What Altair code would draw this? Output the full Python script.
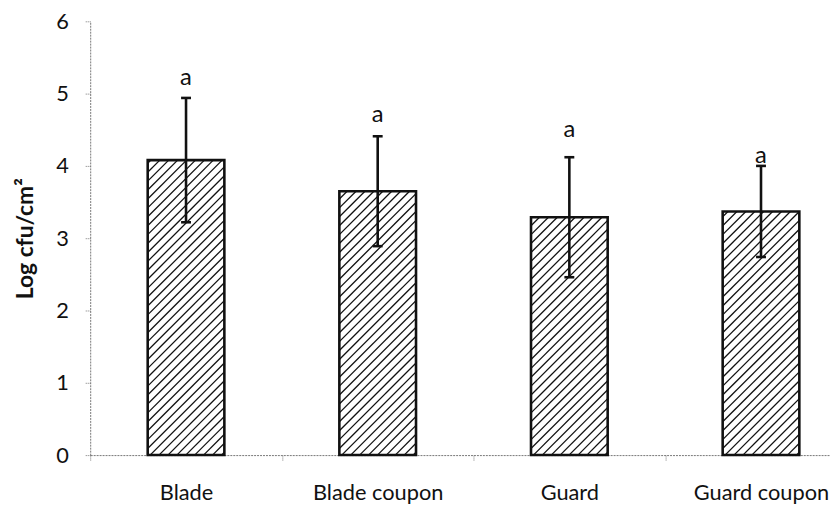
import json
import altair as alt
import pandas as pd

# ---- data ----
categories = ["Blade", "Blade coupon", "Guard", "Guard coupon"]
means = [4.08, 3.65, 3.29, 3.37]
errors = [0.86, 0.76, 0.83, 0.63]
letters = ["a", "a", "a", "a"]
letter_y = [5.21, 4.71, 4.49, 4.14]
y_ticks = [0, 1, 2, 3, 4, 5, 6]

# ---- layout ----
W, H = 747, 438
X_MAX = 3.86          # plot is cropped on the right in the reference
Y_MAX = 6
PX_X = W / X_MAX
PX_Y = H / Y_MAX
HALF = 0.2            # half bar width (in band units)
CAP = 5 / PX_X        # half cap width
FONT = "Lato"

rows = []
for i, (c, m, e) in enumerate(zip(categories, means, errors)):
    ctr = i + 0.5
    rows.append(dict(cat=c, center=ctr, left=ctr - HALF, right=ctr + HALF,
                     mean=m, zero=0.0, lo=m - e, hi=m + e,
                     capL=ctr - CAP, capR=ctr + CAP))
bars = pd.DataFrame(rows)

lab = pd.DataFrame(dict(center=[i + 0.5 for i in range(len(categories))],
                        ly=letter_y, txt=letters))

# hatch lines (45 deg, lower-left to upper-right), derived from bar geometry
SPACING = 9.0
hatch = []
for r in rows:
    w = (r["right"] - r["left"]) * PX_X
    h = r["mean"] * PX_Y
    c = -w + 3
    while c < h:
        u0 = max(0.0, -c)
        u1 = min(w, h - c)
        if u1 > u0:
            hatch.append(dict(x0=r["left"] + u0 / PX_X, x1=r["left"] + u1 / PX_X,
                              y0=(u0 + c) / PX_Y, y1=(u1 + c) / PX_Y))
        c += SPACING
hatch = pd.DataFrame(hatch)

xscale = alt.Scale(domain=[0, X_MAX], nice=False, zero=False)
yscale = alt.Scale(domain=[0, Y_MAX], nice=False)

names_js = json.dumps(categories).replace('"', "'")
x_axis = alt.Axis(
    title=None, grid=False,
    values=[0, 0.5, 1, 1.5, 2, 2.5, 3, 3.5],
    labelExpr=f"datum.value % 1 === 0 ? '' : {names_js}[floor(datum.value)]",
    labelFont=FONT, labelFontSize=22, labelColor="#111",
    labelPadding=23, labelFlush=False, labelOverlap=False,
    tickSize=5, tickColor="#777", tickDash=[1, 1], tickWidth=1,
    tickOpacity=alt.condition("datum.value % 1 === 0", alt.value(1), alt.value(0)),
    domainColor="#777", domainDash=[2, 1], domainWidth=1,
)
y_axis = alt.Axis(
    title="Log cfu/cm²", titleFont=FONT, titleFontSize=23, titleFontWeight="bold",
    titleColor="#111", titlePadding=19,
    values=y_ticks, grid=False,
    labelFont=FONT, labelFontSize=22, labelColor="#111", labelPadding=17,
    tickSize=5, tickColor="#777", tickDash=[1, 1], tickWidth=1,
    domainColor="#777", domainDash=[2, 1], domainWidth=1,
)


def X(f):
    return alt.X(f, type="quantitative", scale=xscale, axis=x_axis)


def Y(f):
    return alt.Y(f, type="quantitative", scale=yscale, axis=y_axis)


base_rect = alt.Chart(bars).mark_rect(fill="white").encode(
    x=X("left"), x2="right", y=Y("mean"), y2="zero",
)

hatch_layer = alt.Chart(hatch).mark_rule(color="#111", strokeWidth=1.3).encode(
    x=X("x0"), x2="x1", y=Y("y0"), y2="y1",
)

outline = alt.Chart(bars).mark_rect(fill="white", fillOpacity=0, stroke="#111",
                                    strokeWidth=2.6).encode(
    x=X("left"), x2="right", y=Y("mean"), y2="zero",
)

err = alt.Chart(bars).mark_rule(color="#111", strokeWidth=2.6).encode(
    x=X("center"), y=Y("lo"), y2="hi",
)
cap_hi = alt.Chart(bars).mark_rule(color="#111", strokeWidth=2.6).encode(
    x=X("capL"), x2="capR", y=Y("hi"),
)
cap_lo = alt.Chart(bars).mark_rule(color="#111", strokeWidth=2.6).encode(
    x=X("capL"), x2="capR", y=Y("lo"),
)

letters_layer = alt.Chart(lab).mark_text(font=FONT, fontSize=24, color="#111",
                                         baseline="middle").encode(
    x=X("center"), y=Y("ly"), text="txt:N",
)

chart = alt.layer(base_rect, hatch_layer, outline, err, cap_hi, cap_lo,
                  letters_layer).properties(
    width=W, height=H,
    autosize=alt.AutoSizeParams(type="none"),
    padding={"left": 83, "top": 11, "right": 0, "bottom": 52},
    background="white",
).configure_view(stroke=None)

chart.save("out.html", embed_options={"renderer": "svg", "actions": False})
